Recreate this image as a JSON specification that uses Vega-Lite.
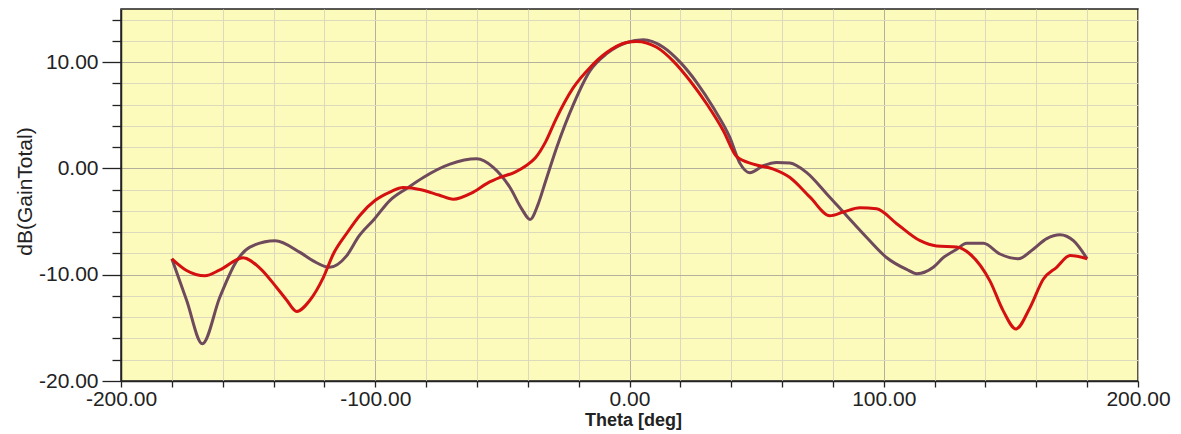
{
  "$schema": "https://vega.github.io/schema/vega-lite/v6.json",
  "width": 1017,
  "height": 372,
  "autosize": {"type": "none"},
  "padding": {"left": 121, "top": 9, "right": 43, "bottom": 53},
  "background": "white",
  "config": {
    "view": {"stroke": "#222222", "strokeWidth": 1.5, "fill": "#fdfbbb"},
    "font": "Liberation Sans"
  },
  "data": {
    "values": [
      {"theta": -180, "gain": -8.5, "s": "A"},
      {"theta": -174.2, "gain": -12.4, "s": "A"},
      {"theta": -168, "gain": -16.5, "s": "A"},
      {"theta": -161.1, "gain": -12.1, "s": "A"},
      {"theta": -154.5, "gain": -8.7, "s": "A"},
      {"theta": -149.3, "gain": -7.4, "s": "A"},
      {"theta": -139.4, "gain": -6.8, "s": "A"},
      {"theta": -129.6, "gain": -7.9, "s": "A"},
      {"theta": -124.4, "gain": -8.7, "s": "A"},
      {"theta": -118, "gain": -9.3, "s": "A"},
      {"theta": -111.2, "gain": -8.2, "s": "A"},
      {"theta": -106.5, "gain": -6.4, "s": "A"},
      {"theta": -100.5, "gain": -4.8, "s": "A"},
      {"theta": -94.2, "gain": -3.0, "s": "A"},
      {"theta": -87.7, "gain": -1.9, "s": "A"},
      {"theta": -81.1, "gain": -0.85, "s": "A"},
      {"theta": -70.6, "gain": 0.4, "s": "A"},
      {"theta": -60.1, "gain": 0.9, "s": "A"},
      {"theta": -53.6, "gain": 0.1, "s": "A"},
      {"theta": -47, "gain": -1.8, "s": "A"},
      {"theta": -42.4, "gain": -3.8, "s": "A"},
      {"theta": -39.1, "gain": -4.8, "s": "A"},
      {"theta": -36, "gain": -3.4, "s": "A"},
      {"theta": -33, "gain": -1.2, "s": "A"},
      {"theta": -28.6, "gain": 2.0, "s": "A"},
      {"theta": -22.1, "gain": 6.0, "s": "A"},
      {"theta": -15.5, "gain": 9.2, "s": "A"},
      {"theta": -9, "gain": 10.8, "s": "A"},
      {"theta": -1.1, "gain": 11.85, "s": "A"},
      {"theta": 5.4, "gain": 12.1, "s": "A"},
      {"theta": 13.3, "gain": 11.4, "s": "A"},
      {"theta": 19.9, "gain": 10.0, "s": "A"},
      {"theta": 26.4, "gain": 8.1, "s": "A"},
      {"theta": 33, "gain": 5.7, "s": "A"},
      {"theta": 39.5, "gain": 2.9, "s": "A"},
      {"theta": 43.4, "gain": 0.5, "s": "A"},
      {"theta": 47.3, "gain": -0.4, "s": "A"},
      {"theta": 52.6, "gain": 0.25, "s": "A"},
      {"theta": 57.9, "gain": 0.56, "s": "A"},
      {"theta": 63.1, "gain": 0.5, "s": "A"},
      {"theta": 69.7, "gain": -0.4, "s": "A"},
      {"theta": 77.6, "gain": -2.4, "s": "A"},
      {"theta": 85.4, "gain": -4.45, "s": "A"},
      {"theta": 93.3, "gain": -6.5, "s": "A"},
      {"theta": 101.2, "gain": -8.4, "s": "A"},
      {"theta": 109, "gain": -9.5, "s": "A"},
      {"theta": 113, "gain": -9.9, "s": "A"},
      {"theta": 119.5, "gain": -9.3, "s": "A"},
      {"theta": 123.4, "gain": -8.4, "s": "A"},
      {"theta": 128.7, "gain": -7.6, "s": "A"},
      {"theta": 132.6, "gain": -7.05, "s": "A"},
      {"theta": 139.2, "gain": -7.05, "s": "A"},
      {"theta": 145.7, "gain": -8.05, "s": "A"},
      {"theta": 152.9, "gain": -8.5, "s": "A"},
      {"theta": 158.8, "gain": -7.6, "s": "A"},
      {"theta": 164.1, "gain": -6.6, "s": "A"},
      {"theta": 169.3, "gain": -6.24, "s": "A"},
      {"theta": 174.6, "gain": -6.8, "s": "A"},
      {"theta": 180, "gain": -8.5, "s": "A"},

      {"theta": -180, "gain": -8.5, "s": "B"},
      {"theta": -174.2, "gain": -9.6, "s": "B"},
      {"theta": -167, "gain": -10.1, "s": "B"},
      {"theta": -161.1, "gain": -9.55, "s": "B"},
      {"theta": -152, "gain": -8.4, "s": "B"},
      {"theta": -145.3, "gain": -9.4, "s": "B"},
      {"theta": -138.8, "gain": -11.2, "s": "B"},
      {"theta": -134.8, "gain": -12.4, "s": "B"},
      {"theta": -130.9, "gain": -13.45, "s": "B"},
      {"theta": -125.7, "gain": -12.4, "s": "B"},
      {"theta": -120.4, "gain": -10.25, "s": "B"},
      {"theta": -116.5, "gain": -8.05, "s": "B"},
      {"theta": -111.2, "gain": -6.1, "s": "B"},
      {"theta": -106, "gain": -4.4, "s": "B"},
      {"theta": -100, "gain": -3.0, "s": "B"},
      {"theta": -94, "gain": -2.2, "s": "B"},
      {"theta": -89, "gain": -1.8, "s": "B"},
      {"theta": -82, "gain": -2.0, "s": "B"},
      {"theta": -75, "gain": -2.5, "s": "B"},
      {"theta": -69.3, "gain": -2.9, "s": "B"},
      {"theta": -62, "gain": -2.3, "s": "B"},
      {"theta": -56, "gain": -1.4, "s": "B"},
      {"theta": -50.9, "gain": -0.85, "s": "B"},
      {"theta": -45, "gain": -0.35, "s": "B"},
      {"theta": -41, "gain": 0.2, "s": "B"},
      {"theta": -37, "gain": 1.0, "s": "B"},
      {"theta": -33, "gain": 2.5, "s": "B"},
      {"theta": -29, "gain": 4.6, "s": "B"},
      {"theta": -22.1, "gain": 7.6, "s": "B"},
      {"theta": -15.5, "gain": 9.5, "s": "B"},
      {"theta": -9, "gain": 10.9, "s": "B"},
      {"theta": -1.1, "gain": 11.85, "s": "B"},
      {"theta": 2.8, "gain": 11.95, "s": "B"},
      {"theta": 10.7, "gain": 11.4, "s": "B"},
      {"theta": 17.2, "gain": 10.1, "s": "B"},
      {"theta": 23.8, "gain": 8.25, "s": "B"},
      {"theta": 30.4, "gain": 6.06, "s": "B"},
      {"theta": 36.9, "gain": 3.55, "s": "B"},
      {"theta": 42.2, "gain": 1.1, "s": "B"},
      {"theta": 48.7, "gain": 0.4, "s": "B"},
      {"theta": 56.6, "gain": -0.06, "s": "B"},
      {"theta": 63.1, "gain": -0.85, "s": "B"},
      {"theta": 71, "gain": -2.7, "s": "B"},
      {"theta": 78.8, "gain": -4.45, "s": "B"},
      {"theta": 84.1, "gain": -4.1, "s": "B"},
      {"theta": 90.6, "gain": -3.7, "s": "B"},
      {"theta": 97.2, "gain": -3.8, "s": "B"},
      {"theta": 105.1, "gain": -5.2, "s": "B"},
      {"theta": 114.3, "gain": -6.8, "s": "B"},
      {"theta": 120.8, "gain": -7.3, "s": "B"},
      {"theta": 128.7, "gain": -7.4, "s": "B"},
      {"theta": 133.9, "gain": -8.05, "s": "B"},
      {"theta": 141.8, "gain": -10.6, "s": "B"},
      {"theta": 147, "gain": -13.4, "s": "B"},
      {"theta": 152, "gain": -15.1, "s": "B"},
      {"theta": 157.5, "gain": -13.1, "s": "B"},
      {"theta": 162.8, "gain": -10.4, "s": "B"},
      {"theta": 168, "gain": -9.3, "s": "B"},
      {"theta": 173.3, "gain": -8.2, "s": "B"},
      {"theta": 180, "gain": -8.5, "s": "B"}
    ]
  },
  "mark": {"type": "line", "interpolate": "monotone", "strokeWidth": 3},
  "encoding": {
    "x": {
      "field": "theta",
      "type": "quantitative",
      "scale": {"domain": [-200, 200], "nice": false, "zero": false},
      "axis": {
        "title": "Theta [deg]",
        "titleFont": "Liberation Sans",
        "titleFontSize": 18,
        "titleFontWeight": "bold",
        "titleColor": "#222222",
        "titleX": 512,
        "titleY": 39,
        "titleBaseline": "middle",
        "titleAlign": "center",
        "values": [-200, -180, -160, -140, -120, -100, -80, -60, -40, -20, 0, 20, 40, 60, 80, 100, 120, 140, 160, 180, 200],
        "labelExpr": "datum.value % 100 === 0 ? replace(format(datum.value, '.2f'), '−', '-') : ''",
        "labelFont": "Liberation Sans",
        "labelFontSize": 21,
        "labelColor": "#222222",
        "labelFlush": false,
        "labelOverlap": false,
        "labelPadding": 1,
        "tickSize": 6,
        "tickColor": "#222222",
        "tickWidth": 1.3,
        "domainColor": "#222222",
        "domainWidth": 1.5,
        "grid": true,
        "gridColor": {"condition": {"test": "datum.value % 100 === 0", "value": "#b3b09c"}, "value": "#dcd9bd"},
        "gridWidth": 1
      }
    },
    "y": {
      "field": "gain",
      "type": "quantitative",
      "scale": {"domain": [-20, 15], "nice": false, "zero": false},
      "axis": {
        "title": "dB(GainTotal)",
        "titleFont": "Liberation Sans",
        "titleFontSize": 21,
        "titleFontWeight": "normal",
        "titleColor": "#222222",
        "titleAngle": -90,
        "titleX": -96,
        "titleY": 182,
        "titleBaseline": "middle",
        "titleAlign": "center",
        "values": [-20, -18, -16, -14, -12, -10, -8, -6, -4, -2, 0, 2, 4, 6, 8, 10, 12, 14],
        "labelExpr": "datum.value % 10 === 0 ? replace(format(datum.value, '.2f'), '−', '-') : ''",
        "labelFont": "Liberation Sans",
        "labelFontSize": 21,
        "labelColor": "#222222",
        "labelFlush": false,
        "labelOverlap": false,
        "labelPadding": 4,
        "tickSize": {"condition": {"test": "datum.value % 10 === 0", "value": 19}, "value": 9},
        "tickColor": "#222222",
        "tickWidth": 1.3,
        "domainColor": "#222222",
        "domainWidth": 1.5,
        "grid": true,
        "gridColor": {"condition": {"test": "datum.value % 10 === 0", "value": "#b3b09c"}, "value": "#dcd9bd"},
        "gridWidth": 1
      }
    },
    "color": {
      "field": "s",
      "type": "nominal",
      "scale": {"domain": ["A", "B"], "range": ["#6e4a5c", "#d41010"]},
      "legend": null
    },
    "order": {"field": "s"}
  }
}
